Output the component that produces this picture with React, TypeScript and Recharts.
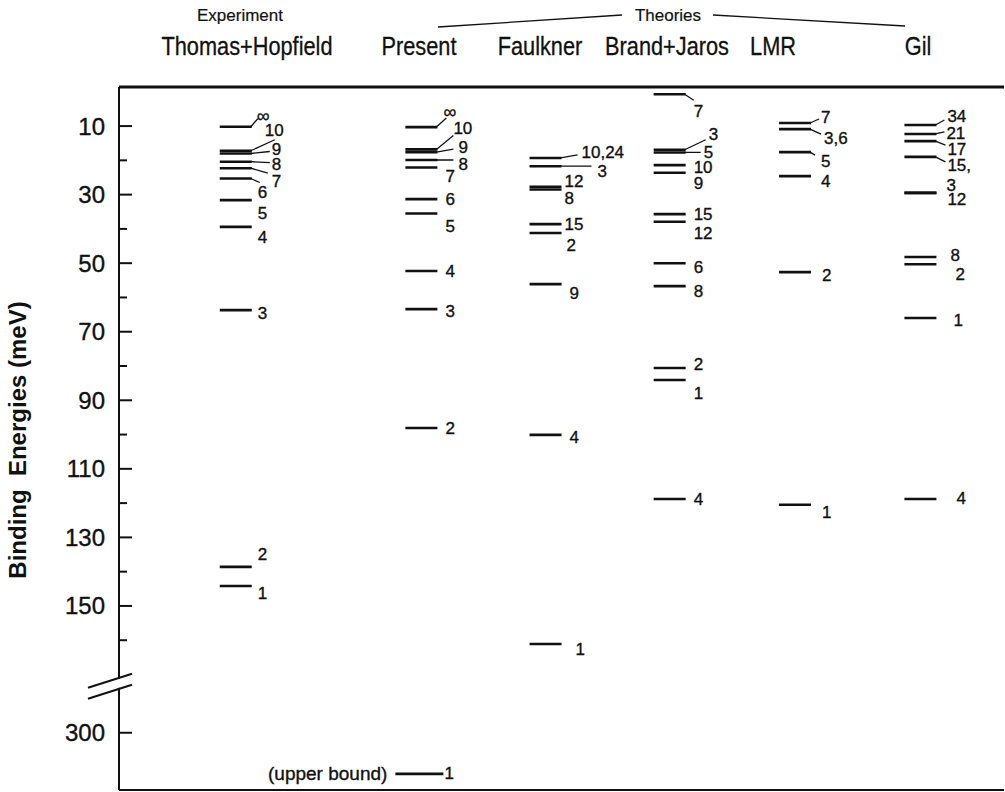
import { Scatter, ScatterChart, XAxis, YAxis } from "recharts";

// level names and binding energies (meV), one pair of arrays per column
const TH_LEVELS = ["∞", "10", "9", "8", "7", "6", "5", "4", "3", "2", "1"];
const TH_ENERGY = [10.2, 17.2, 18.0, 20.4, 22.3, 25.3, 31.6, 39.4, 63.7, 138.6, 144.2];

const PRESENT_LEVELS = ["∞", "10", "9", "8", "7", "6", "5", "4", "3", "2", "1"];
const PRESENT_ENERGY = [10.3, 16.8, 17.6, 19.9, 22.1, 31.3, 35.5, 52.3, 63.4, 98.1, 312];

const FAULKNER_LEVELS = ["10,24", "3", "12", "8", "15", "2", "9", "4", "1"];
const FAULKNER_ENERGY = [19.3, 21.7, 27.7, 28.5, 38.6, 41.2, 56.1, 100.1, 161.1];

const BJ_LEVELS = ["7", "3", "5", "10", "9", "15", "12", "6", "8", "2", "1", "4"];
const BJ_ENERGY = [0.7, 16.9, 17.7, 21.4, 23.6, 35.7, 37.9, 50.0, 56.7, 80.6, 84.1, 118.8];

const LMR_LEVELS = ["7", "3,6", "5", "4", "2", "1"];
const LMR_ENERGY = [9.1, 10.9, 17.6, 24.6, 52.6, 120.5];

const GIL_LEVELS = ["34", "21", "17", "15,", "3", "12", "8", "2", "1", "4"];
const GIL_ENERGY = [9.7, 12.3, 14.4, 19.0, 29.5, 29.5, 48.2, 50.3, 66.0, 118.8];

const COLUMN_NAMES = ["Thomas+Hopfield", "Present", "Faulkner", "Brand+Jaros", "LMR", "Gil"];

const Y_TICKS = [10, 20, 30, 40, 50, 60, 70, 80, 90, 100, 110, 120, 130, 140, 150, 160, 300];
const Y_LABELED = [10, 30, 50, 70, 90, 110, 130, 150, 300];

// broken axis: everything above the break is pulled down by BREAK_SHIFT
const BREAK_SHIFT = 113;
const BREAK_AT = 173.3;
const toAxis = (e: number) => (e > 200 ? e - BREAK_SHIFT : e);
const fromAxis = (v: number) => (v > BREAK_AT ? Math.round(v + BREAK_SHIFT) : v);

// label placement per level: [dx, dy, leaderX, leaderY] from the right end of the bar
const TH_OFFSETS = [
  [5, -11, 6, -8], [13, -20, 23, -11], [20, -4, 18, -2], [20, 3, 18, 1], [20, 13, 16, 5],
  [6, 14, 8, 4], [6, 13], [6, 11], [6, 3], [6, -12], [6, 7],
];
const PRESENT_OFFSETS = [
  [6, -15, 9, -9], [16, -21, 16, -14], [21, -5, 16, -3], [21, 4, 16, 0], [8, 9],
  [8, 0], [8, 13], [8, 0], [8, 2], [8, 0], [7, 0],
];
const FAULKNER_OFFSETS = [
  [20, -5, 16, -3], [36, 5, 30, 0], [3, -5], [3, 9], [3, 0], [5, 12], [8, 9], [8, 3], [14, 6],
];
const BJ_OFFSETS = [
  [8, 17, 8, 6], [23, -15, 20, -10], [18, 0, 15, 0], [8, 2], [8, 11], [8, 0], [8, 12],
  [8, 4], [8, 5], [8, -4], [8, 13], [8, 1],
];
const LMR_OFFSETS = [[10, -5, 8, -4], [13, 9, 10, 5], [10, 9, 4, 3], [10, 5], [11, 3], [11, 8]];
const GIL_OFFSETS = [
  [11, -9, 8, -5], [10, 0, 8, -2], [11, 8, 9, 4], [11, 9, 9, 5], [10, -7], [11, 7],
  [14, -2], [19, 10], [17, 2], [20, 0],
];

const COLUMN_SLOTS = [0.95, 2.46, 3.47, 4.48, 5.5, 6.52];

const FONT = "'Liberation Sans', Arial, Helvetica, sans-serif";
const INK = "#111";
const HALF = 16;

const makeSeries = (levels: string[], energy: number[], offsets: number[][], slot: number) =>
  levels.map((level, i) => ({
    x: slot,
    y: toAxis(energy[i]),
    level,
    offset: offsets[i],
    note: energy[i] > 200 ? "(upper bound)" : null,
  }));

const SERIES = [
  makeSeries(TH_LEVELS, TH_ENERGY, TH_OFFSETS, COLUMN_SLOTS[0]),
  makeSeries(PRESENT_LEVELS, PRESENT_ENERGY, PRESENT_OFFSETS, COLUMN_SLOTS[1]),
  makeSeries(FAULKNER_LEVELS, FAULKNER_ENERGY, FAULKNER_OFFSETS, COLUMN_SLOTS[2]),
  makeSeries(BJ_LEVELS, BJ_ENERGY, BJ_OFFSETS, COLUMN_SLOTS[3]),
  makeSeries(LMR_LEVELS, LMR_ENERGY, LMR_OFFSETS, COLUMN_SLOTS[4]),
  makeSeries(GIL_LEVELS, GIL_ENERGY, GIL_OFFSETS, COLUMN_SLOTS[5]),
];

const inkText = { fill: INK, stroke: INK, strokeWidth: 0.35, fontFamily: FONT };

function Level(props: any) {
  const { cx, cy, payload } = props;
  if (cx == null || cy == null) return null;
  const [dx, dy, lx, ly] = payload.offset;
  const xs = cx - HALF;
  const xe = cx + HALF;
  const wide = !!payload.note;
  return (
    <g>
      <line x1={wide ? xs - 10 : xs} x2={wide ? xe + 6 : xe} y1={cy} y2={cy} stroke={INK} strokeWidth={2.6} />
      {lx != null && (
        <line x1={xe - 1} y1={cy} x2={xe + lx} y2={cy + ly} stroke={INK} strokeWidth={1.3} />
      )}
      <text x={xe + dx} y={cy + dy} dominantBaseline="central" fontSize={payload.level === "∞" ? 18 : 17} {...inkText}>
        {payload.level}
      </text>
      {payload.note && (
        <text x={xs - 18} y={cy} textAnchor="end" dominantBaseline="central" fontSize={19} {...inkText}>
          {payload.note}
        </text>
      )}
    </g>
  );
}

function YTick(props: any) {
  const { x, y, payload } = props;
  const v = payload.value;
  if (v === BREAK_AT) {
    return (
      <g>
        <rect x={x - 3} y={y - 7} width={6} height={9} fill="#fff" />
        <line x1={x - 31} y1={y + 2} x2={x + 13} y2={y - 12} stroke={INK} strokeWidth={2} />
        <line x1={x - 31} y1={y + 13} x2={x + 13} y2={y - 1} stroke={INK} strokeWidth={2} />
      </g>
    );
  }
  const real = fromAxis(v);
  const major = Y_LABELED.includes(real);
  return (
    <g>
      <line x1={x} x2={x + (major ? 13 : 8)} y1={y} y2={y} stroke={INK} strokeWidth={2} />
      {major && (
        <text x={x - 14} y={y} textAnchor="end" dominantBaseline="central" fontSize={24} {...inkText}>
          {real}
        </text>
      )}
    </g>
  );
}

const HEADER_X = [247, 419, 540, 667, 773, 918];

export default function App() {
  return (
    <div style={{ position: "absolute", left: 0, top: 0, width: 1005, height: 792, background: "#fff" }}>
      <ScatterChart width={1005} height={792} margin={{ top: 86, right: 1, bottom: 1, left: 0 }}>
        <XAxis type="number" dataKey="x" domain={[0, 7.2]} height={1} tick={false} tickLine={false}
          axisLine={{ stroke: INK, strokeWidth: 2 }} />
        <XAxis xAxisId="top" orientation="top" type="number" dataKey="x" domain={[0, 7.2]} height={1}
          tick={false} tickLine={false} axisLine={{ stroke: INK, strokeWidth: 3 }} />
        <YAxis
          type="number"
          dataKey="y"
          reversed
          domain={[-1.4, 203.7]}
          allowDataOverflow
          ticks={[...Y_TICKS.map(toAxis), BREAK_AT]}
          interval={0}
          width={119}
          tickSize={0}
          tickMargin={0}
          tickLine={false}
          tick={YTick}
          axisLine={{ stroke: INK, strokeWidth: 2 }}
        />
        {SERIES.map((data, i) => (
          <Scatter key={COLUMN_NAMES[i]} data={data} shape={Level} isAnimationActive={false} />
        ))}
      </ScatterChart>
      <svg width={1005} height={792} style={{ position: "absolute", left: 0, top: 0, pointerEvents: "none" }}>
        <text x={240} y={21} textAnchor="middle" fontSize={17} {...inkText} strokeWidth={0.2}>Experiment</text>
        <text x={668} y={21} textAnchor="middle" fontSize={17} {...inkText} strokeWidth={0.2}>Theories</text>
        <line x1={438} y1={27} x2={622} y2={15} stroke={INK} strokeWidth={1.3} />
        <line x1={713} y1={15} x2={905} y2={26} stroke={INK} strokeWidth={1.3} />
        {COLUMN_NAMES.map((name, i) => (
          <text
            key={name}
            transform={`translate(${HEADER_X[i]} 55) scale(0.87 1)`}
            textAnchor="middle"
            fontSize={25}
            {...inkText}
            strokeWidth={0.3}
          >
            {name}
          </text>
        ))}
        <text
          x={17}
          y={440}
          transform="rotate(-90 17 440)"
          textAnchor="middle"
          dominantBaseline="central"
          fontSize={24}
          fontWeight="bold"
          fontFamily={FONT}
          fill={INK}
          style={{ whiteSpace: "pre" }}
        >
          {"Binding  Energies (meV)"}
        </text>
      </svg>
    </div>
  );
}
